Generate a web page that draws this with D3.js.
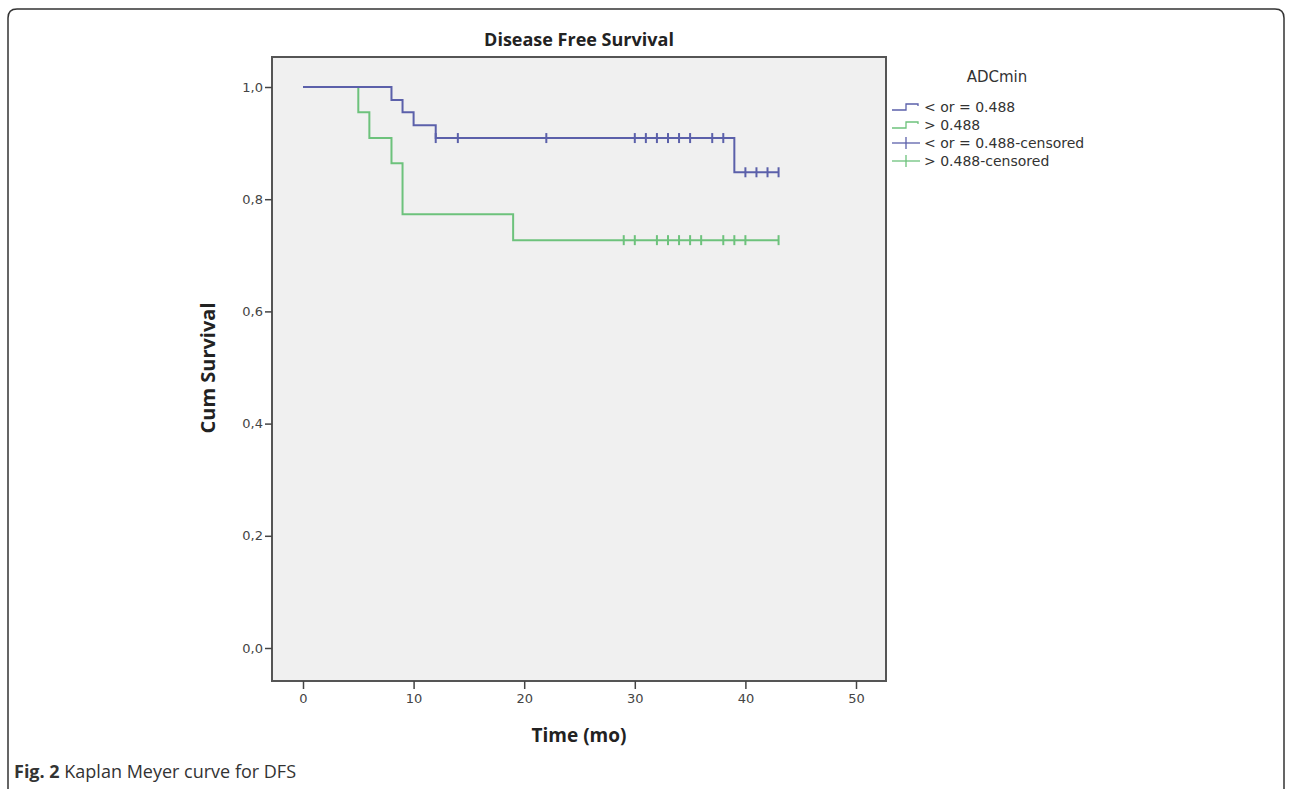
<!DOCTYPE html>
<html>
<head>
<meta charset="utf-8">
<script src="https://cdn.jsdelivr.net/npm/d3@7"></script>
<style>
  body { margin: 0; background: #fff; }
  svg { font-family: "Open Sans", "DejaVu Sans", sans-serif; }
</style>
</head>
<body>
<div id="chart"></div>
<script>
// Kaplan-Meier data
const xTicks = [0, 10, 20, 30, 40, 50];
const yTicks = [0, 0.2, 0.4, 0.6, 0.8, 1.0];

const lowTimes = [0, 8, 9, 10, 12, 39];
const lowSurv = [1, 0.977, 0.955, 0.932, 0.909, 0.848];
const lowEnd = 43;
const lowCensor = [12, 14, 22, 30, 31, 32, 33, 34, 35, 37, 38, 40, 41, 42, 43];

const highTimes = [0, 5, 6, 8, 9, 19];
const highSurv = [1, 0.955, 0.909, 0.864, 0.773, 0.727];
const highEnd = 43;
const highCensor = [29, 30, 32, 33, 34, 35, 36, 38, 39, 40, 43];

const legendLabels = ["< or = 0.488", "> 0.488", "< or = 0.488-censored", "> 0.488-censored"];

const blue = "#5b60aa", green = "#6dc27c";

const W = 1292, H = 789;
const svg = d3.select("#chart").append("svg")
    .attr("width", W).attr("height", H);

// outer panel border
svg.append("path")
    .attr("d", "M8,800 L8,18 Q8,9 17,9 L1275,9 Q1284,9 1284,18 L1284,800")
    .attr("fill", "none").attr("stroke", "#333").attr("stroke-width", 1.5);

const frame = {left: 272, top: 57, right: 886, bottom: 681};

const x = d3.scaleLinear().domain([0, 50]).range([303, 856]);
const y = d3.scaleLinear().domain([0, 1]).range([648, 87]);

svg.append("rect")
    .attr("x", frame.left).attr("y", frame.top)
    .attr("width", frame.right - frame.left).attr("height", frame.bottom - frame.top)
    .attr("fill", "#f0f0f0").attr("stroke", "#555").attr("stroke-width", 2);

// axes
const fmt = d => d3.format(".1f")(d).replace(".", ",");

const yAxis = svg.append("g")
    .attr("transform", "translate(" + frame.left + ",0)")
    .call(d3.axisLeft(y).tickValues(yTicks).tickFormat(fmt).tickSize(7).tickPadding(2));
const xAxis = svg.append("g")
    .attr("transform", "translate(0," + frame.bottom + ")")
    .call(d3.axisBottom(x).tickValues(xTicks).tickSize(8).tickPadding(5));

[yAxis, xAxis].forEach(a => {
    a.select(".domain").remove();
    a.attr("font-family", "DejaVu Sans").attr("font-size", 13);
    a.selectAll(".tick line").attr("stroke", "#444").attr("stroke-width", 1.5);
    a.selectAll(".tick text").attr("fill", "#444");
});

// step lines
function stepPoints(times, surv, end) {
    const pts = times.map((t, i) => [t, surv[i]]);
    pts.push([end, surv[surv.length - 1]]);
    return pts;
}
function survAt(times, surv, t) {
    let s = surv[0];
    times.forEach((tt, i) => { if (tt <= t) s = surv[i]; });
    return s;
}

const line = d3.line().x(d => x(d[0])).y(d => y(d[1])).curve(d3.curveStepAfter);

const groups = [
    {times: highTimes, surv: highSurv, end: highEnd, cens: highCensor, color: green},
    {times: lowTimes, surv: lowSurv, end: lowEnd, cens: lowCensor, color: blue}
];

groups.forEach(g => {
    svg.append("path")
        .datum(stepPoints(g.times, g.surv, g.end))
        .attr("fill", "none").attr("stroke", g.color).attr("stroke-width", 2)
        .attr("d", line);
    svg.append("g").selectAll("line")
        .data(g.cens).enter().append("line")
        .attr("x1", d => x(d)).attr("x2", d => x(d))
        .attr("y1", d => y(survAt(g.times, g.surv, d)) - 5)
        .attr("y2", d => y(survAt(g.times, g.surv, d)) + 5)
        .attr("stroke", g.color).attr("stroke-width", 2);
});

// titles
svg.append("text").attr("x", 579).attr("y", 46).attr("text-anchor", "middle")
    .style("font-size", "18px").style("font-weight", "bold").attr("fill", "#222")
    .text("Disease Free Survival");
svg.append("text").attr("x", 579).attr("y", 742).attr("text-anchor", "middle")
    .style("font-size", "19px").style("font-weight", "bold").attr("fill", "#222")
    .text("Time (mo)");
svg.append("text").attr("transform", "translate(215,368) rotate(-90)")
    .attr("text-anchor", "middle")
    .style("font-size", "20px").style("font-weight", "bold").attr("fill", "#222")
    .text("Cum Survival");

// legend
const lg = svg.append("g").attr("font-family", "DejaVu Sans");
lg.append("text").attr("x", 997).attr("y", 82).attr("text-anchor", "middle")
    .attr("font-size", 15).attr("fill", "#333").text("ADCmin");
const legY = [107, 125, 143, 161];
legendLabels.forEach((lab, i) => {
    const c = i % 2 === 0 ? blue : green;
    const yy = legY[i];
    if (i < 2) {
        lg.append("path")
            .attr("d", "M892," + (yy + 3) + " H906 V" + (yy - 3) + " H918 V" + (yy - 1))
            .attr("fill", "none").attr("stroke", c).attr("stroke-width", 1.3);
    } else {
        lg.append("line").attr("x1", 892).attr("x2", 920).attr("y1", yy).attr("y2", yy)
            .attr("stroke", c).attr("stroke-width", 1.3);
        lg.append("line").attr("x1", 906).attr("x2", 906).attr("y1", yy - 6).attr("y2", yy + 6)
            .attr("stroke", c).attr("stroke-width", 1.3);
    }
    lg.append("text").attr("x", 924).attr("y", yy + 5)
        .attr("font-size", 14).attr("fill", "#333").text(lab);
});

// caption
const cap = svg.append("text").attr("x", 14).attr("y", 778).style("font-size", "18px").attr("fill", "#333");
cap.append("tspan").style("font-weight", "bold").text("Fig. 2");
cap.append("tspan").text(" Kaplan Meyer curve for DFS");
</script>
</body>
</html>
